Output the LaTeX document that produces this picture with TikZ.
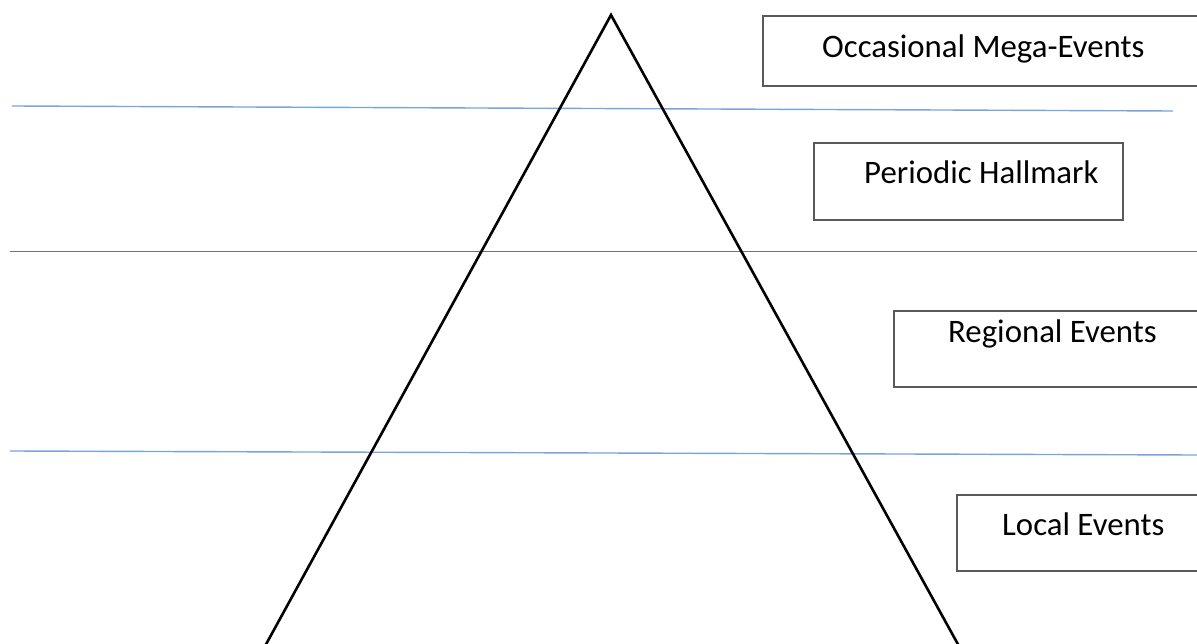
\documentclass[tikz,border=0pt]{standalone}
\usepackage{fontspec}
\setmainfont{Carlito}
\definecolor{softblue}{RGB}{120,165,220}
\begin{document}
\begin{tikzpicture}[x=1pt,y=-1pt,
  lbl/.style={anchor=base west,inner sep=0pt,font=\fontsize{32.8}{38}\selectfont},
  frame/.style={draw=black!65,line width=1.2pt},
  blueline/.style={draw=softblue,line width=1.4pt},
  grayline/.style={draw=black!55,line width=0.9pt},
  tri/.style={draw=black,line width=2.6pt}]
\useasboundingbox (0,0) rectangle (1197,644);
% horizontal bands
\coordinate (l1a) at (12,106); \coordinate (l1b) at (1173,111);
\coordinate (l2a) at (10,251); \coordinate (l2b) at (1197,251);
\coordinate (l3a) at (10,451); \coordinate (l3b) at (1197,455);
\draw[blueline] (l1a) -- (l1b);
\draw[grayline] (l2a) -- (l2b);
\draw[blueline] (l3a) -- (l3b);
% pyramid
\coordinate (apex) at (611,15);
\coordinate (bl) at (264,648);
\coordinate (br) at (960,648);
\draw[tri,line join=miter] (bl) -- (apex) -- (br);
% boxes
\draw[frame] (1199,16) -- (763,16) -- (763,86) -- (1199,86);
\draw[frame] (814,143) rectangle (1123,220);
\draw[frame] (1199,311) -- (894,311) -- (894,387) -- (1199,387);
\draw[frame] (1199,495) -- (957,495) -- (957,571) -- (1199,571);
% labels
\node[lbl] (t1) at (822,58) {Occasional Mega-Events};
\node[lbl] (t2) at (864,184) {Periodic Hallmark};
\node[lbl] (t3) at (948,343) {Regional Events};
\node[lbl] (t4) at (1002,535) {Local Events};
\end{tikzpicture}
\end{document}
